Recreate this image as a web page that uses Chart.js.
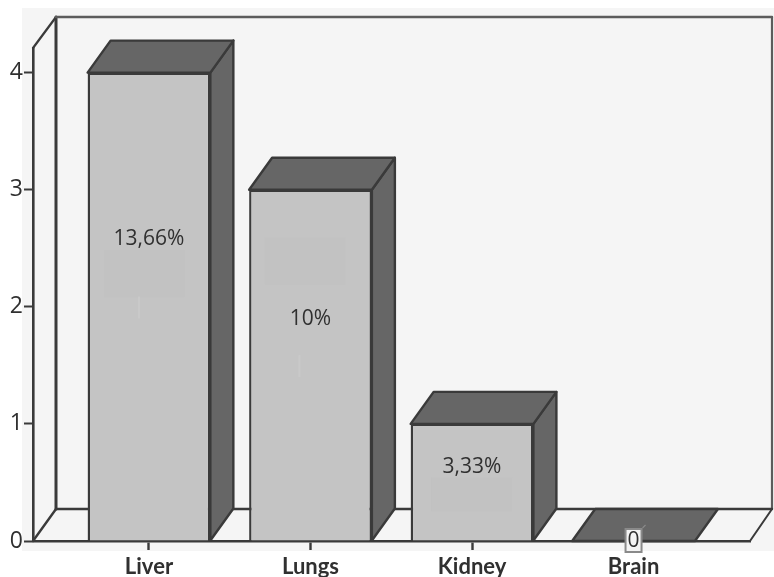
<!DOCTYPE html>
<html>
<head>
<meta charset="utf-8">
<style>html,body{margin:0;padding:0;background:#fff}canvas{display:block}</style>
<script src="https://cdn.jsdelivr.net/npm/chart.js@4"></script>
</head>
<body>
<canvas id="c" width="774" height="577"></canvas>
<script>
// Organ involvement counts, with the share stated on each bar
const categories = ['Liver', 'Lungs', 'Kidney', 'Brain'];
const counts = [4, 3, 1, 0];
const shareLabels = ['13,66%', '10%', '3,33%', '0'];
const yTickValues = [0, 1, 2, 3, 4];

// Pseudo-3D extrusion and label placement
const DEPTH_X = 23, DEPTH_Y = -32;
const labelLift = [68, 46, 15, 0];
// Faint panels on the bar faces: centre offset from the bar middle, and height
const panelLift = [33, 104, -12, 0];
const panelShift = [-4, -5, 0, 0];
const panelHeight = [47, 47, 34, 0];
// Pale flecks on the bar faces: centre offset from the bar middle and bar centre
const fleckLift = [-1, -1, 0, 0];
const fleckShift = [-10, -11, 0, 0];
const INK = '#3a3a3a', FACE = '#c4c4c4', SHADE = '#666666', WALL = '#f5f5f5';

function poly(ctx, pts, fill, stroke, w) {
  ctx.beginPath();
  pts.forEach((p, i) => i ? ctx.lineTo(p[0], p[1]) : ctx.moveTo(p[0], p[1]));
  ctx.closePath();
  if (fill) { ctx.fillStyle = fill; ctx.fill(); }
  if (stroke) { ctx.strokeStyle = stroke; ctx.lineWidth = w; ctx.lineJoin = 'round'; ctx.stroke(); }
}
function seg(ctx, x0, y0, x1, y1, w, color) {
  ctx.beginPath(); ctx.moveTo(x0, y0); ctx.lineTo(x1, y1);
  ctx.lineWidth = w; ctx.strokeStyle = color || INK; ctx.stroke();
}

const box3d = {
  id: 'box3d',
  beforeDraw(chart) {
    const { ctx, chartArea: a } = chart;
    ctx.save();
    ctx.fillStyle = WALL;
    ctx.fillRect(a.left - 11, 8, chart.width - a.left + 11, a.bottom + 10 - 8);
    ctx.restore();
  },
  beforeDatasetsDraw(chart) {
    const { ctx, chartArea: a } = chart;
    const bx = a.left + DEPTH_X, rx = a.right + DEPTH_X - 1, fy = a.bottom + DEPTH_Y, ty = a.top + DEPTH_Y + 1;
    ctx.save();
    ctx.lineCap = 'round';
    seg(ctx, a.left, a.top, bx, ty, 2.2);
    seg(ctx, bx, ty, bx, fy, 3);
    seg(ctx, bx, ty, rx, ty, 2.4, '#5c5c5c');
    seg(ctx, rx, ty, rx, fy, 2.2, '#5c5c5c');
    seg(ctx, a.left, a.bottom, bx, fy, 2.4);
    seg(ctx, bx, fy, rx, fy, 2.4);
    seg(ctx, a.right, a.bottom, rx, fy, 2);
    // Top and side faces of each bar, taken from the bar element geometry
    chart.getDatasetMeta(0).data.forEach(bar => {
      const half = bar.width / 2, l = bar.x - half, r = bar.x + half;
      const t = bar.y, b = bar.base;
      if (b - t > 1) {
        poly(ctx, [[r, t], [r + DEPTH_X, t + DEPTH_Y], [r + DEPTH_X, b + DEPTH_Y], [r, b]], SHADE, INK, 2.4);
      }
      poly(ctx, [[l, t], [r, t], [r + DEPTH_X, t + DEPTH_Y], [l + DEPTH_X, t + DEPTH_Y]], SHADE, INK, 2.4);
    });
    ctx.restore();
  },
  afterDatasetsDraw(chart) {
    const { ctx } = chart;
    ctx.save();
    chart.getDatasetMeta(0).data.forEach((bar, i) => {
      const middle = (bar.y + bar.base) / 2;
      if (panelHeight[i]) {
        ctx.fillStyle = '#c2c2c2';
        ctx.fillRect(bar.x + panelShift[i] - 41, middle - panelLift[i] - panelHeight[i] / 2, 81, panelHeight[i]);
      }
      if (fleckShift[i]) {
        ctx.fillStyle = '#c9c9c9';
        ctx.fillRect(bar.x + fleckShift[i] - 1, middle - fleckLift[i] - 11, 2, 22);
      }
      const mid = middle - labelLift[i];
      ctx.font = '21px "Open Sans"';
      ctx.textAlign = 'center';
      ctx.textBaseline = 'middle';
      if (counts[i] === 0) {
        ctx.fillStyle = '#f4f4f4';
        ctx.strokeStyle = '#8a8a8a';
        ctx.lineWidth = 2;
        ctx.fillRect(bar.x - 8, mid - 12, 16, 23);
        ctx.strokeRect(bar.x - 8, mid - 12, 16, 23);
        seg(ctx, bar.x + 9, mid - 13, bar.x + 12, mid - 16, 1.2, '#8a8a8a');
      }
      ctx.fillStyle = '#303030';
      ctx.fillText(shareLabels[i], bar.x, mid);
    });
    ctx.restore();
  }
};

new Chart(document.getElementById('c'), {
  type: 'bar',
  data: {
    datasets: [{
      data: counts.map((v, i) => ({ x: i, y: v })),
      backgroundColor: FACE,
      borderColor: INK,
      borderWidth: 2.4,
      barPercentage: 0.76,
      categoryPercentage: 1
    }]
  },
  options: {
    responsive: false,
    animation: false,
    layout: { padding: { top: 48, right: 24, left: 0, bottom: 0 } },
    plugins: { legend: { display: false }, tooltip: { enabled: false } },
    scales: {
      x: {
        type: 'linear',
        offset: false,
        min: -0.718,
        max: 3.721,
        afterBuildTicks(s) { s.ticks = categories.map((_, i) => ({ value: i })); },
        afterFit(s) { s.height = 36; },
        grid: { offset: false, drawOnChartArea: false, tickLength: 9, tickColor: INK, tickWidth: 2.4 },
        border: { color: INK, width: 2.6 },
        ticks: {
          autoSkip: false, maxRotation: 0, padding: 4,
          color: '#303030', font: { family: 'Lato', weight: 'bold', size: 22 },
          callback: v => categories[v]
        }
      },
      y: {
        min: 0,
        max: 4.21,
        afterBuildTicks(s) { s.ticks = yTickValues.map(v => ({ value: v })); },
        afterFit(s) { s.width = 33; },
        grid: { drawOnChartArea: false, tickLength: 9, tickColor: INK, tickWidth: 2 },
        border: { color: INK, width: 2.6 },
        ticks: {
          padding: 1,
          color: '#303030', font: { family: 'Open Sans', size: 23 }
        }
      }
    }
  },
  plugins: [box3d]
});
</script>
</body>
</html>
